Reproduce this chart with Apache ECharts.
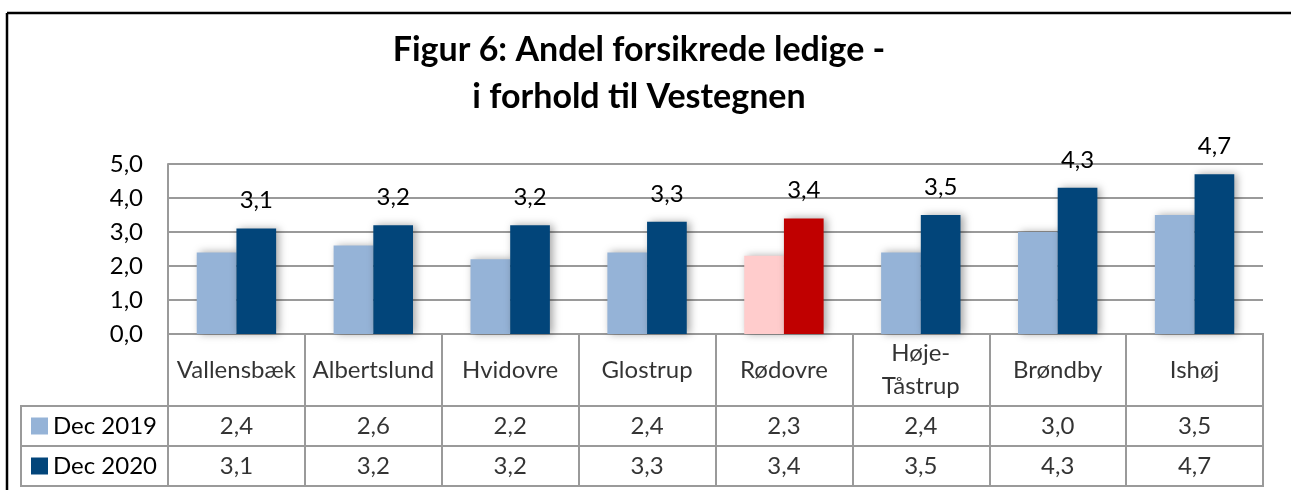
<!DOCTYPE html>
<html>
<head>
<meta charset="utf-8">
<script src="https://cdn.jsdelivr.net/npm/echarts@6/dist/echarts.min.js"></script>
<style>
html,body{margin:0;padding:0;background:#fff;}
#c{width:1291px;height:490px;}
</style>
</head>
<body>
<div id="c"></div>
<script>
const categories = ['Vallensbæk','Albertslund','Hvidovre','Glostrup','Rødovre','Høje-\nTåstrup','Brøndby','Ishøj'];
const seriesNames = ['Dec 2019','Dec 2020'];
const dec2019 = [2.4,2.6,2.2,2.4,2.3,2.4,3.0,3.5];
const dec2020 = [3.1,3.2,3.2,3.3,3.4,3.5,4.3,4.7];
const highlightIndex = 4;
const yMin = 0, yMax = 5, yStep = 1;
const titleLines = ['Figur 6: Andel forsikrede ledige -','i forhold til Vestegnen'];

const FONT = 'Lato';
const FS = 24;
const C19 = '#95B3D7', C20 = '#02457A', H19 = '#FFCCCC', H20 = '#C00000';
const GRID_LINE = '#9a9a9a';
const fmt = v => Number(v).toFixed(1).replace('.', ',');

const chart = echarts.init(document.getElementById('c'));

const bar19 = dec2019.map((v,i) => i === highlightIndex ? {value:v, itemStyle:{color:H19}} : v);
const bar20 = dec2020.map((v,i) => i === highlightIndex ? {value:v, itemStyle:{color:H20}} : v);

const shadow = {shadowBlur:8, shadowColor:'rgba(0,0,0,0.35)', shadowOffsetX:3, shadowOffsetY:0};

const option = {
  backgroundColor:'#fff',
  animation:false,
  textStyle:{fontFamily:FONT},
  graphic:[
    {type:'line', shape:{x1:7,y1:13,x2:1291,y2:13}, style:{stroke:'#000', lineWidth:2.5}},
    {type:'line', shape:{x1:7,y1:13,x2:7,y2:490}, style:{stroke:'#000', lineWidth:2.5}},
    {type:'text', x:639, y:50, style:{text:titleLines[0], font:'bold 34px Lato', fill:'#000', align:'center', verticalAlign:'middle'}},
    {type:'text', x:639, y:97, style:{text:titleLines[1], font:'bold 34px Lato', fill:'#000', align:'center', verticalAlign:'middle'}}
  ],
  legend:{
    data:seriesNames,
    orient:'vertical', left:31, top:414, padding:0,
    itemWidth:17, itemHeight:17, itemGap:16, icon:'rect',
    textStyle:{fontSize:FS, lineHeight:24, color:'#000', fontFamily:FONT},
    selectedMode:false
  },
  grid:[
    {left:168, top:164, width:1095, height:170},
    {left:168, top:334, width:1095, height:72, show:true, borderColor:GRID_LINE, borderWidth:2},
    {left:168, top:406, width:1095, height:80, show:true, borderColor:GRID_LINE, borderWidth:2},
    {left:21, top:406, width:147, height:80, show:true, borderColor:GRID_LINE, borderWidth:2}
  ],
  xAxis:[
    {gridIndex:0, type:'category', data:categories, axisLine:{show:true, lineStyle:{color:GRID_LINE, width:2}}, axisTick:{show:false}, axisLabel:{show:false}},
    {gridIndex:1, type:'category', data:categories, axisLine:{show:false}, axisTick:{show:false}, axisLabel:{show:false}, splitLine:{show:true, interval:0, lineStyle:{color:GRID_LINE, width:2}}},
    {gridIndex:2, type:'category', data:categories, axisLine:{show:false}, axisTick:{show:false}, axisLabel:{show:false}, splitLine:{show:true, interval:0, lineStyle:{color:GRID_LINE, width:2}}},
    {gridIndex:3, type:'value', min:0, max:1, show:false}
  ],
  yAxis:[
    {gridIndex:0, type:'value', min:yMin, max:yMax, interval:yStep,
      axisLine:{show:true, lineStyle:{color:GRID_LINE, width:2}}, axisTick:{show:false},
      axisLabel:{formatter:fmt, fontSize:FS, color:'#000', margin:25, fontFamily:FONT},
      splitLine:{show:true, lineStyle:{color:GRID_LINE, width:2}}},
    {gridIndex:1, type:'value', min:0, max:1, show:false},
    {gridIndex:2, type:'category', data:seriesNames, inverse:true, axisLine:{show:false}, axisTick:{show:false}, axisLabel:{show:false}, splitLine:{show:true, interval:0, lineStyle:{color:GRID_LINE, width:2}}},
    {gridIndex:3, type:'category', data:seriesNames, inverse:true, axisLine:{show:false}, axisTick:{show:false}, axisLabel:{show:false}, splitLine:{show:true, interval:0, lineStyle:{color:GRID_LINE, width:2}}}
  ],
  series:[
    {name:seriesNames[0], type:'bar', xAxisIndex:0, yAxisIndex:0, data:bar19, barGap:'0%', barCategoryGap:'42%',
      itemStyle:Object.assign({color:C19}, shadow)},
    {name:seriesNames[1], type:'bar', xAxisIndex:0, yAxisIndex:0, data:bar20, barGap:'0%', barCategoryGap:'42%',
      itemStyle:Object.assign({color:C20}, shadow),
      label:{show:true, position:'top', distance:16, fontSize:FS, color:'#000', fontFamily:FONT, formatter:p => fmt(p.value)}},
    {name:'catLabels', type:'scatter', xAxisIndex:1, yAxisIndex:1, symbolSize:1, itemStyle:{color:'rgba(0,0,0,0)'},
      data:categories.map((c,i) => [i, 0.5]), silent:true,
      label:{show:true, position:'inside', fontSize:FS, lineHeight:33, color:'#000', fontFamily:FONT, align:'center', verticalAlign:'middle',
        formatter:p => categories[p.dataIndex]}},
    {name:'row2019', type:'scatter', xAxisIndex:2, yAxisIndex:2, symbolSize:1, itemStyle:{color:'rgba(0,0,0,0)'},
      data:dec2019.map((v,i) => [i, 0, v]), silent:true,
      label:{show:true, position:'inside', fontSize:FS, color:'#000', fontFamily:FONT, formatter:p => fmt(p.value[2])}},
    {name:'row2020', type:'scatter', xAxisIndex:2, yAxisIndex:2, symbolSize:1, itemStyle:{color:'rgba(0,0,0,0)'},
      data:dec2020.map((v,i) => [i, 1, v]), silent:true,
      label:{show:true, position:'inside', fontSize:FS, color:'#000', fontFamily:FONT, formatter:p => fmt(p.value[2])}}
  ]
};
chart.setOption(option);
</script>
</body>
</html>
